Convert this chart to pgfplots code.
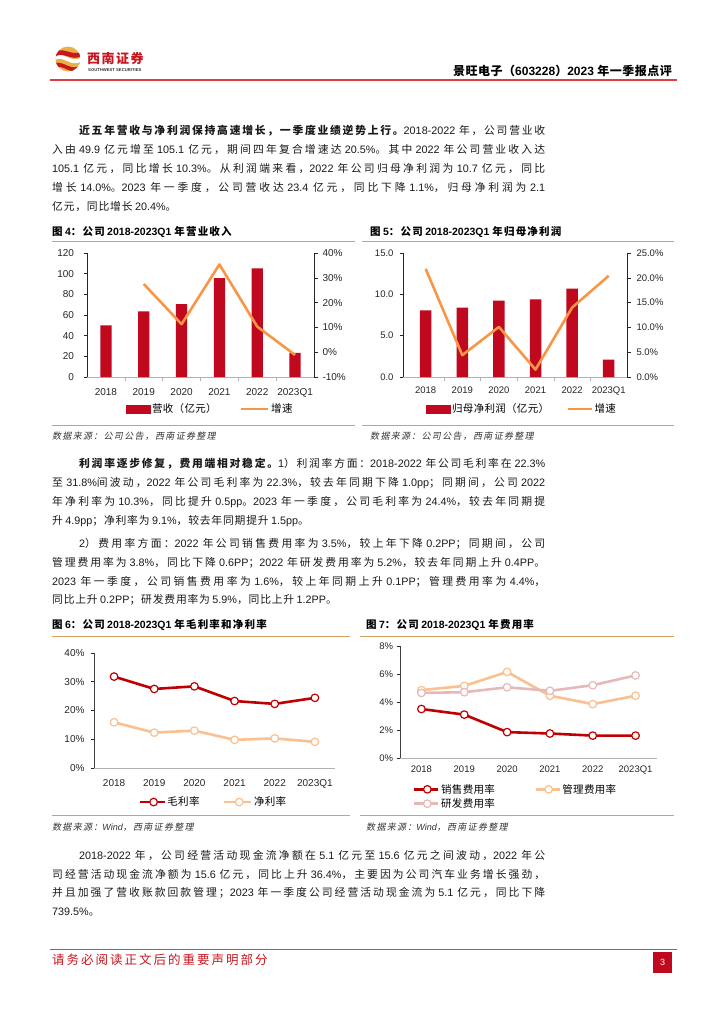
\documentclass[border=0pt]{standalone}
\usepackage{fontspec}
\usepackage{pgfplots}
\pgfplotsset{compat=1.18}
\setmainfont{Liberation Sans}
\newfontfamily\latf{Liberation Sans}
\newfontfamily\cjkf{Noto Sans CJK SC}[AutoFakeSlant=0.2]

% automatic font switching between Latin and CJK
\newXeTeXintercharclass\cjkcls
\newcount\cc
\def\setcls#1#2{\cc=#1 \loop\XeTeXcharclass\cc=\cjkcls\relax\ifnum\cc<#2 \advance\cc by 1 \repeat}
\setcls{"3000}{"303F}
\setcls{"4E00}{"9FFF}
\setcls{"FF00}{"FFEF}
\newskip\cjkgap \cjkgap=0pt
\XeTeXinterchartoks 0 \cjkcls = {\cjkf}
\XeTeXinterchartoks 4095 \cjkcls = {\cjkf}
\XeTeXinterchartoks \cjkcls 0 = {\latf}
\XeTeXinterchartoks 4095 0 = {\latf}
\XeTeXinterchartoks \cjkcls \cjkcls = {\hskip\cjkgap}
\XeTeXinterchartokenstate=1

\definecolor{barred}{RGB}{192,8,30}
\definecolor{lorange}{RGB}{247,150,70}
\definecolor{tanl}{RGB}{214,160,96}
\definecolor{hdrred}{RGB}{224,62,66}
\definecolor{mred}{RGB}{192,0,0}
\definecolor{peach}{RGB}{250,192,143}
\definecolor{pinkr}{RGB}{230,185,184}
\definecolor{gold}{RGB}{234,176,70}
\definecolor{logored}{RGB}{200,22,30}

\newcommand\bodyfont{\fontsize{10.8bp}{13bp}\selectfont\color{black!90}\cjkgap=0.8bp plus 2pt\relax}
\newcommand\tickfont{\fontsize{10bp}{12bp}\selectfont}
\newcommand\tickfontS{\fontsize{9.5bp}{11bp}\selectfont}
\newcommand\legfont{\fontsize{10.5bp}{12bp}\selectfont\cjkgap=0.3bp\relax}
\newcommand\titlefont{\fontsize{10.5bp}{12bp}\selectfont\bfseries\cjkgap=1.2bp\relax}
\newcommand\srcfont{\fontsize{9bp}{11bp}\selectfont\itshape\color{black!80}\cjkgap=1.3bp\relax}
\newcommand\jline[4]{\node[anchor=west,inner sep=0pt] at (#1bp,-#2bp) {\bodyfont\makebox[#3bp][s]{#4}};}
\newcommand\bline[3]{\node[anchor=west,inner sep=0pt] at (#1bp,-#2bp) {\bodyfont #3};}

\pgfplotsset{
  refbase/.style={scale only axis, xmin=-0.5, xmax=5.5, tick align=outside,
    major tick length=3.5bp, minor tick length=3.5bp, axis line style={-},
    tick style={line width=0.6bp, black!85}, ticklabel style={text=black!85},
    clip=false},
}

\begin{document}
\begin{tikzpicture}
\fill[white] (0,0) rectangle (724bp,-1024bp);
\path[use as bounding box] (0,0) rectangle (724bp,-1024bp);

% ---------- header ----------
\begin{scope}
\clip (68bp,-59bp) circle (12.5bp);
\fill[gold] (68bp,-59bp) circle (12.5bp);
\fill[white] (54bp,-57bp) .. controls (62bp,-49bp) and (71bp,-65bp) .. (82bp,-57bp) -- (82bp,-61bp) .. controls (71bp,-69bp) and (62bp,-53bp) .. (54bp,-61bp) -- cycle;
\fill[logored] (54bp,-54bp) .. controls (62bp,-44bp) and (72bp,-58bp) .. (82bp,-51bp) -- (82bp,-55.5bp) .. controls (72bp,-63bp) and (62bp,-49bp) .. (54bp,-58bp) -- cycle;
\fill[logored] (54bp,-64bp) .. controls (62bp,-58bp) and (72bp,-74bp) .. (82bp,-64bp) -- (82bp,-68bp) .. controls (72bp,-78bp) and (62bp,-62bp) .. (54bp,-68bp) -- cycle;
\end{scope}
\node[anchor=west,inner sep=0pt,text=logored] at (87bp,-58bp) {\fontsize{13bp}{14bp}\selectfont\bfseries\cjkgap=1.5bp 西南证券};
\node[anchor=west,inner sep=0pt,text=black!80] at (88bp,-70.5bp) {\fontsize{4.2bp}{5bp}\selectfont\bfseries SOUTHWEST SECURITIES};
\node[anchor=east,inner sep=0pt] at (672bp,-71bp) {\fontsize{12bp}{14bp}\selectfont\bfseries\cjkgap=0.5bp 景旺电子（603228）2023 年一季报点评};
\draw[hdrred,line width=1.3bp] (50bp,-80bp) -- (677bp,-80bp);

% ---------- paragraph 1 ----------
\jline{79}{131}{466}{{\bfseries 近五年营收与净利润保持高速增长，一季度业绩逆势上行。}2018-2022 年，公司营业收}
\jline{52}{150}{493}{入由 49.9 亿元增至 105.1 亿元，期间四年复合增速达 20.5\%。其中 2022 年公司营业收入达}
\jline{52}{169}{493}{105.1 亿元，同比增长 10.3\%。从利润端来看，2022 年公司归母净利润为 10.7 亿元，同比}
\jline{52}{188}{493}{增长 14.0\%。2023 年一季度，公司营收达 23.4 亿元，同比下降 1.1\%，归母净利润为 2.1}
\bline{52}{207}{亿元，同比增长 20.4\%。}

% ---------- figure titles 4/5 ----------
\node[anchor=west,inner sep=0pt] at (52bp,-232bp) {\titlefont 图 4：公司 2018-2023Q1 年营业收入};
\node[anchor=west,inner sep=0pt] at (370bp,-232bp) {\titlefont 图 5：公司 2018-2023Q1 年归母净利润};
\draw[tanl,line width=0.9bp] (52bp,-241bp) -- (355bp,-241bp);
\draw[tanl,line width=0.9bp] (362bp,-241bp) -- (674bp,-241bp);
\draw[tanl,line width=0.9bp] (52bp,-425bp) -- (355bp,-425bp);
\draw[tanl,line width=0.9bp] (362bp,-425bp) -- (674bp,-425bp);
\node[anchor=west,inner sep=0pt] at (52bp,-436bp) {\srcfont 数据来源：公司公告，西南证券整理};
\node[anchor=west,inner sep=0pt] at (370bp,-436bp) {\srcfont 数据来源：公司公告，西南证券整理};

% ---------- Figure 4 ----------
\begin{axis}[refbase, at={(87bp,-377bp)}, anchor=south west, width=227bp, height=124bp,
  ymin=0, ymax=120, axis x line*=bottom, axis y line*=left,
  x axis line style={draw=gray!60,line width=0.7bp}, y axis line style={draw=black!85,line width=0.7bp},
  xtick={0,...,5}, xticklabels={2018,2019,2020,2021,2022,2023Q1},
  major x tick style={draw=none},
  minor xtick={0.5,1.5,...,4.5}, minor x tick style={draw=gray!60},
  ytick={0,20,...,120}, yticklabels={0,20,40,60,80,100,120},
  ticklabel style={font=\tickfont}, xticklabel style={yshift=-4bp}, yticklabel style={xshift=-6bp},
  ybar, bar width=11.3bp]
\addplot[fill=barred, draw=none] coordinates {(0,49.9) (1,63.6) (2,70.6) (3,95.6) (4,105.1) (5,23.4)};
\end{axis}
\begin{axis}[refbase, at={(87bp,-377bp)}, anchor=south west, width=227bp, height=124bp,
  ymin=-10, ymax=40, axis x line=none, axis y line*=right,
  y axis line style={draw=black!85,line width=0.7bp},
  ytick={-10,0,...,40}, yticklabels={-10\%,0\%,10\%,20\%,30\%,40\%},
  ticklabel style={font=\tickfont}, yticklabel style={xshift=1.5bp},
  legend style={at={(0.172,-0.258)}, anchor=west, draw=none, fill=none, inner sep=0pt,
    legend columns=2, font=\legfont, nodes={inner sep=1.5bp},
    /tikz/every even column/.append style={column sep=22bp}}]
\addlegendimage{legend image code/.code={\fill[barred] (0bp,-3.8bp) rectangle (24bp,3.8bp);}}
\addlegendentry{营收（亿元）}
\addplot[lorange, line width=2.6bp, line join=round,
  legend image code/.code={\draw[lorange,line width=2.6bp] (0bp,0bp) -- (27bp,0bp);}]
  coordinates {(1,27.5) (2,11.3) (3,35.4) (4,10.3) (5,-1.1)};
\addlegendentry{增速}
\end{axis}

% ---------- Figure 5 ----------
\begin{axis}[refbase, at={(403bp,-377bp)}, anchor=south west, width=224bp, height=124bp,
  xmin=-0.62, ymin=0, ymax=15, axis x line*=bottom, axis y line*=left,
  x axis line style={draw=gray!60,line width=0.7bp}, y axis line style={draw=black!85,line width=0.7bp},
  xtick={0,...,5}, xticklabels={2018,2019,2020,2021,2022,2023Q1},
  major x tick style={draw=none},
  minor xtick={0.5,1.5,...,4.5}, minor x tick style={draw=gray!60},
  ytick={0,5,10,15}, yticklabels={0.0,5.0,10.0,15.0},
  ticklabel style={font=\tickfontS}, xticklabel style={yshift=-3bp}, yticklabel style={xshift=-2.5bp},
  ybar, bar width=11.5bp]
\addplot[fill=barred, draw=none] coordinates {(0,8.05) (1,8.4) (2,9.25) (3,9.4) (4,10.7) (5,2.1)};
\end{axis}
\begin{axis}[refbase, at={(403bp,-377bp)}, anchor=south west, width=224bp, height=124bp,
  xmin=-0.62, ymin=0, ymax=25, axis x line=none, axis y line*=right,
  y axis line style={draw=black!85,line width=0.7bp},
  ytick={0,5,...,25}, yticklabels={0.0\%,5.0\%,10.0\%,15.0\%,20.0\%,25.0\%},
  ticklabel style={font=\tickfontS}, yticklabel style={xshift=2.5bp},
  legend style={at={(0.103,-0.258)}, anchor=west, draw=none, fill=none, inner sep=0pt,
    legend columns=2, font=\legfont, nodes={inner sep=1.5bp},
    /tikz/every even column/.append style={column sep=16bp}}]
\addlegendimage{legend image code/.code={\fill[barred] (0bp,-3.8bp) rectangle (24bp,3.8bp);}}
\addlegendentry{归母净利润（亿元）}
\addplot[lorange, line width=2.6bp, line join=round,
  legend image code/.code={\draw[lorange,line width=2.6bp] (0bp,0bp) -- (24bp,0bp);}]
  coordinates {(0,21.8) (1,4.4) (2,10.1) (3,1.5) (4,14.0) (5,20.4)};
\addlegendentry{增速}
\end{axis}

% ---------- paragraph 2 ----------
\jline{79}{464}{466}{{\bfseries 利润率逐步修复，费用端相对稳定。}1）利润率方面：2018-2022 年公司毛利率在 22.3\%}
\jline{52}{483}{493}{至 31.8\%间波动，2022 年公司毛利率为 22.3\%，较去年同期下降 1.0pp；同期间，公司 2022}
\jline{52}{502}{493}{年净利率为 10.3\%，同比提升 0.5pp。2023 年一季度，公司毛利率为 24.4\%，较去年同期提}
\bline{52}{521}{升 4.9pp；净利率为 9.1\%，较去年同期提升 1.5pp。}
\jline{79}{544}{466}{2）费用率方面：2022 年公司销售费用率为 3.5\%，较上年下降 0.2PP；同期间，公司}
\jline{52}{563}{493}{管理费用率为 3.8\%，同比下降 0.6PP；2022 年研发费用率为 5.2\%，较去年同期上升 0.4PP。}
\jline{52}{582}{493}{2023 年一季度，公司销售费用率为 1.6\%，较上年同期上升 0.1PP；管理费用率为 4.4\%，}
\bline{52}{600}{同比上升 0.2PP；研发费用率为 5.9\%，同比上升 1.2PP。}

% ---------- figure titles 6/7 ----------
\node[anchor=west,inner sep=0pt] at (52bp,-625bp) {\titlefont 图 6：公司 2018-2023Q1 年毛利率和净利率};
\node[anchor=west,inner sep=0pt] at (366bp,-625bp) {\titlefont 图 7：公司 2018-2023Q1 年费用率};
\draw[tanl,line width=0.9bp] (52bp,-636bp) -- (350bp,-636bp);
\draw[tanl,line width=0.9bp] (360bp,-636bp) -- (674bp,-636bp);
\draw[tanl,line width=0.9bp] (52bp,-815bp) -- (350bp,-815bp);
\draw[tanl,line width=0.9bp] (360bp,-815bp) -- (674bp,-815bp);
\node[anchor=west,inner sep=0pt] at (52bp,-827bp) {\srcfont 数据来源：Wind，西南证券整理};
\node[anchor=west,inner sep=0pt] at (366bp,-827bp) {\srcfont 数据来源：Wind，西南证券整理};

% ---------- Figure 6 ----------
\begin{axis}[refbase, at={(94bp,-768bp)}, anchor=south west, width=241bp, height=115bp,
  ymin=0, ymax=40, axis x line*=bottom, axis y line*=left,
  x axis line style={draw=gray!60,line width=0.8bp}, y axis line style={draw=black!75,line width=0.8bp},
  xtick={0,...,5}, xticklabels={2018,2019,2020,2021,2022,2023Q1},
  major x tick style={draw=none},
  ytick={0,10,...,40}, yticklabels={0\%,10\%,20\%,30\%,40\%},
  ticklabel style={font=\tickfont}, xticklabel style={yshift=-4bp}, yticklabel style={xshift=-2.5bp},
  legend style={at={(0.183,-0.296)}, anchor=west, draw=none, fill=none, inner sep=0pt,
    legend columns=2, font=\legfont, nodes={inner sep=1.5bp},
    /tikz/every even column/.append style={column sep=22bp}}]
\addplot[mred, line width=2.6bp, line join=round, mark=*, mark size=3.8bp,
  mark options={fill=white, draw=mred, line width=1.2bp},
  legend image code/.code={\draw[mred,line width=2.6bp] (0bp,0bp) -- (25bp,0bp);
    \draw[mred,fill=white,line width=1.2bp] (14bp,0bp) circle (3.8bp);}]
  coordinates {(0,31.8) (1,27.5) (2,28.4) (3,23.3) (4,22.3) (5,24.4)};
\addlegendentry{毛利率}
\addplot[peach, line width=2.6bp, line join=round, mark=*, mark size=3.8bp,
  mark options={fill=white, draw=peach, line width=1.2bp},
  legend image code/.code={\draw[peach,line width=2.6bp] (0bp,0bp) -- (27bp,0bp);
    \draw[peach,fill=white,line width=1.2bp] (15bp,0bp) circle (3.8bp);}]
  coordinates {(0,15.9) (1,12.3) (2,13.0) (3,9.8) (4,10.3) (5,9.1)};
\addlegendentry{净利率}
\end{axis}

% ---------- Figure 7 ----------
\begin{axis}[refbase, at={(400bp,-758bp)}, anchor=south west, width=257bp, height=112bp,
  ymin=0, ymax=8, axis x line*=bottom, axis y line*=left,
  x axis line style={draw=gray!60,line width=0.8bp}, y axis line style={draw=black!75,line width=0.8bp},
  xtick={0,...,5}, xticklabels={2018,2019,2020,2021,2022,2023Q1},
  major x tick style={draw=none},
  ytick={0,2,...,8}, yticklabels={0\%,2\%,4\%,6\%,8\%},
  ticklabel style={font=\tickfontS}, xticklabel style={yshift=-1bp}, yticklabel style={xshift=0bp},
  legend style={at={(0.05,-0.344)}, anchor=west, draw=none, fill=none, inner sep=0pt,
    legend columns=2, font=\legfont, nodes={inner sep=1.5bp}, row sep=1bp,
    /tikz/every even column/.append style={column sep=38bp}}]
\addplot[mred, line width=2.6bp, line join=round, mark=*, mark size=3.8bp,
  mark options={fill=white, draw=mred, line width=1.2bp},
  legend image code/.code={\draw[mred,line width=2.6bp] (0bp,0bp) -- (24bp,0bp);
    \draw[mred,fill=white,line width=1.2bp] (13bp,0bp) circle (3.8bp);}]
  coordinates {(0,3.5) (1,3.1) (2,1.85) (3,1.75) (4,1.6) (5,1.6)};
\addlegendentry{销售费用率}
\addplot[peach, line width=2.6bp, line join=round, mark=*, mark size=3.8bp,
  mark options={fill=white, draw=peach, line width=1.2bp},
  legend image code/.code={\draw[peach,line width=2.6bp] (0bp,0bp) -- (24bp,0bp);
    \draw[peach,fill=white,line width=1.2bp] (13bp,0bp) circle (3.8bp);}]
  coordinates {(0,4.85) (1,5.15) (2,6.15) (3,4.45) (4,3.85) (5,4.45)};
\addlegendentry{管理费用率}
\addplot[pinkr, line width=2.6bp, line join=round, mark=*, mark size=3.8bp,
  mark options={fill=white, draw=pinkr, line width=1.2bp},
  legend image code/.code={\draw[pinkr,line width=2.6bp] (0bp,0bp) -- (24bp,0bp);
    \draw[pinkr,fill=white,line width=1.2bp] (13bp,0bp) circle (3.8bp);}]
  coordinates {(0,4.65) (1,4.7) (2,5.05) (3,4.8) (4,5.2) (5,5.9)};
\addlegendentry{研发费用率}
\end{axis}

% ---------- paragraph 3 ----------
\jline{79}{855}{466}{2018-2022 年，公司经营活动现金流净额在 5.1 亿元至 15.6 亿元之间波动，2022 年公}
\jline{52}{874}{493}{司经营活动现金流净额为 15.6 亿元，同比上升 36.4\%，主要因为公司汽车业务增长强劲，}
\jline{52}{893}{493}{并且加强了营收账款回款管理；2023 年一季度公司经营活动现金流为 5.1 亿元，同比下降}
\bline{52}{912}{739.5\%。}

% ---------- footer ----------
\draw[hdrred,line width=1bp] (50bp,-949bp) -- (677bp,-949bp);
\node[anchor=west,inner sep=0pt,text=logored] at (52bp,-960bp) {\fontsize{12.5bp}{14bp}\selectfont\cjkgap=2bp 请务必阅读正文后的重要声明部分};
\fill[barred] (653bp,-952bp) rectangle (672bp,-973bp);
\node[text=white,inner sep=0pt] at (662.5bp,-962.5bp) {\fontsize{9bp}{10bp}\selectfont 3};
\end{tikzpicture}
\end{document}
